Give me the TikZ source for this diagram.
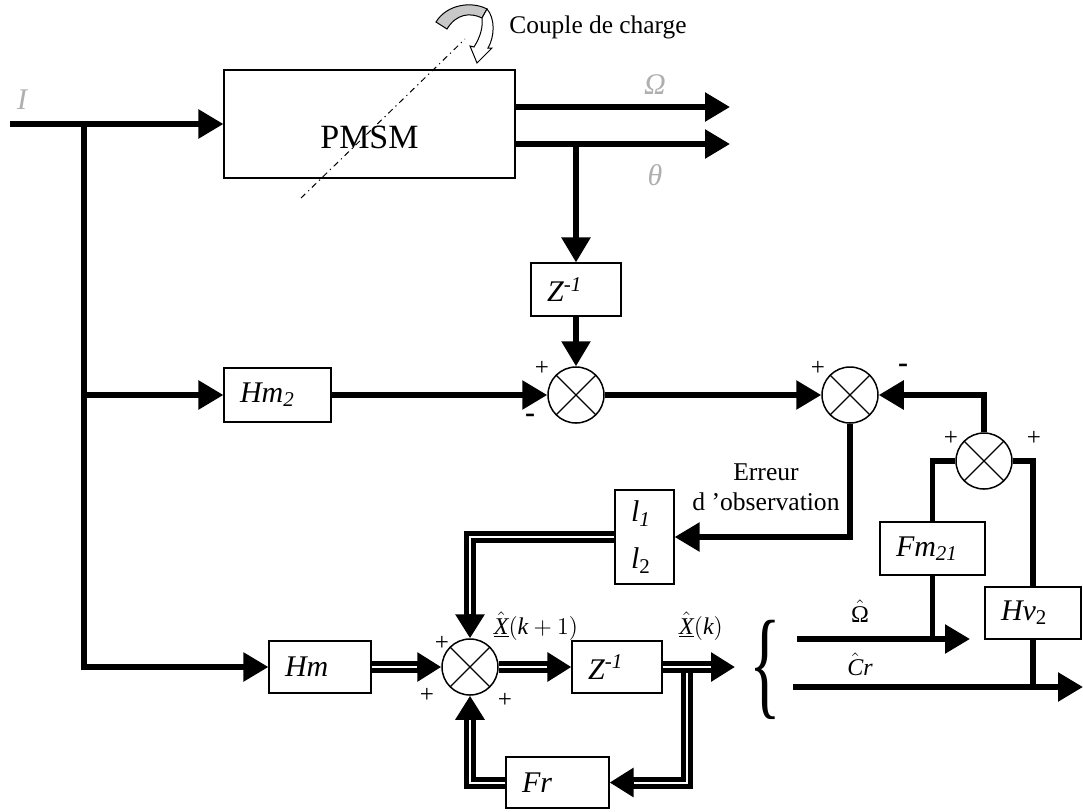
\documentclass[tikz,border=0pt]{standalone}
\usepackage{fontspec}
\setmainfont{Liberation Serif}
\usepackage{graphicx}
\usepackage{tikz}
\usetikzlibrary{arrows.meta}
\definecolor{labelgray}{RGB}{175,175,175}
\definecolor{torquegray}{RGB}{200,200,200}

\begin{document}
\begin{tikzpicture}[x=0.5pt,y=-0.5pt,
  box/.style={draw=black, line width=0.6pt, inner xsep=8pt, inner ysep=0pt, align=left, font=\fontsize{15}{18}\selectfont},
  summer/.style={circle, draw=black, line width=0.75pt, minimum size=28pt, inner sep=0pt,
    path picture={\draw[line width=0.6pt] (path picture bounding box.north west) -- (path picture bounding box.south east)
      (path picture bounding box.south west) -- (path picture bounding box.north east);}},
  sig/.style={line width=2.8pt, -{Triangle[length=12.5pt,width=14pt]}},
  wire/.style={line width=2.8pt},
  dbl/.style={line width=6pt, -{Triangle[length=12pt,width=14pt]}, postaction={draw=white, line width=1pt, -, shorten >=12pt}},
  sgn/.style={font=\fontsize{12.5}{14}\selectfont, inner sep=0pt},
  glabel/.style={text=labelgray, font=\fontsize{15}{18}\selectfont\itshape, inner sep=0pt},
  hatlabel/.style={font=\fontsize{12}{14}\selectfont, inner sep=0pt}]
\useasboundingbox (0,0) rectangle (1083,811);

\filldraw[fill=torquegray, line width=0.5pt] (436,22) .. controls (447,4) and (472,1) .. (487,9) -- (482,18) .. controls (470,12) and (456,14) .. (447,29) -- cycle;
\filldraw[fill=white, line width=0.5pt] (487,9) .. controls (495,18) and (495,36) .. (488,48) -- (492,48) -- (477,63) -- (470,46) -- (474,47) .. controls (481,36) and (483,26) .. (482,18) -- cycle;
\node[font=\fontsize{12.7}{15}\selectfont, anchor=west, inner sep=0pt] (couple) at (509,27) {Couple de charge};

\node[box, align=center, minimum width=145.5pt, minimum height=54pt, text height=24pt, text depth=0pt, font=\fontsize{17}{20}\selectfont] (pmsm) at (369.5,124) {PMSM};
\draw[line width=0.5pt, dash pattern=on 3pt off 2pt on 0.6pt off 2pt] (301,198) -- (465,39);

\node[box, text width=29pt, minimum height=26.5pt] (zinv1) at (576,289.5) {\textit{Z}\textsuperscript{\textit{-1}}};
\node[summer] (sum1) at (576,395) {};
\node[box, text width=37.5pt, minimum height=27pt] (hm2) at (277.5,395) {\textit{Hm}\textsubscript{\textit{2}}};
\node[summer] (sum2) at (850,395) {};
\node[summer] (sum3) at (984,461) {};
\node[box, text width=36.5pt, minimum height=26.5pt] (fm21) at (932.5,548.5) {\textit{Fm}\textsubscript{\textit{21}}};
\node[box, text width=32pt, minimum height=26pt] (hv2) at (1033,613) {\textit{Hv}\textsubscript{2}};
\node[box, text width=13.5pt, minimum height=47pt, font=\fontsize{15}{23.5}\selectfont] (lgain) at (644.5,537) {\textit{l}\textsubscript{\textit{1}}\\\textit{l}\textsubscript{2}};
\node[box, text width=35pt, minimum height=26pt] (hm) at (320,667) {\textit{Hm}};
\node[summer] (sum4) at (470,667) {};
\node[box, text width=29pt, minimum height=26pt] (zinv2) at (617,667) {\textit{Z}\textsuperscript{\textit{-1}}};
\node[box, text width=35.5pt, minimum height=25.5pt] (fr) at (557.5,782.5) {\textit{Fr}};

\coordinate (in) at (10,124);
\coordinate (split) at (84,124);
\coordinate (omegaout) at (730,107);
\coordinate (thetaout) at (730,144);
\coordinate (omegahat) at (797,639);
\coordinate (omegahatend) at (970,639);
\coordinate (crhat) at (793,687);
\coordinate (crhatend) at (1083,687);
\coordinate (xktap) at (687,667);
\coordinate (xk) at (735,667);

\draw[sig] (in) -- (pmsm.west);
\draw[sig] (split) -- (split |- hm.west) -- (hm.west);
\draw[sig] (split |- hm2.west) -- (hm2.west);
\draw[sig] (pmsm.east |- omegaout) -- (omegaout);
\draw[sig] (pmsm.east |- thetaout) -- (thetaout);
\draw[sig] (zinv1.north |- thetaout) -- (zinv1.north);
\draw[sig] (zinv1.south) -- (sum1.north);
\draw[sig] (hm2.east) -- (sum1.west);
\draw[sig] (sum1.east) -- (sum2.west);
\draw[sig] (sum3.north) |- (sum2.east);
\draw[sig] (sum2.south) |- (lgain.east);
\draw[wire] (fm21.north) |- (sum3.west);
\draw[wire] (hv2.north) |- (sum3.east);
\draw[sig] (omegahat) -- (omegahatend);
\draw[wire] (fm21.south) -- (fm21.south |- omegahat);
\draw[sig] (crhat) -- (crhatend);
\draw[wire] (hv2.south) -- (hv2.south |- crhat);

\draw[dbl] (lgain.west) -| (sum4.north);
\draw[dbl] (fr.west) -| (sum4.south);
\draw[dbl] (xktap) |- (fr.east);
\draw[dbl] (hm.east) -- (sum4.west);
\draw[dbl] (sum4.east) -- (zinv2.west);
\draw[dbl] (zinv2.east) -- (xk);

\node[sgn] at (542,368) {+};
\node[sgn, font=\fontsize{15}{18}\selectfont\bfseries] at (530,418) {-};
\node[sgn] at (818,368) {+};
\node[sgn, font=\fontsize{15}{18}\selectfont\bfseries] at (903,368) {-};
\node[sgn] at (951,438) {+};
\node[sgn] at (1034,438) {+};
\node[sgn] at (442,643) {+};
\node[sgn] at (427,695) {+};
\node[sgn] at (505,700) {+};

\node[glabel] (ilabel) at (22,100) {I};
\node[glabel] (omegalabel) at (655,85) {Ω};
\node[glabel] (thetalabel) at (655,175) {θ};
\node[font=\fontsize{12.8}{15}\selectfont, align=center, inner sep=0pt] (erreur) at (766,487) {Erreur\\d 'observation};
\node[hatlabel] (xnext) at (536,626) {$\underline{\hat{\mathit{X}}}(\mathit{k}+1)$};
\node[hatlabel] (xnow) at (701,626) {$\underline{\hat{\mathit{X}}}(\mathit{k})$};
\node[hatlabel] (omegahatlabel) at (860,611) {$\hat{\mbox{Ω}}$};
\node[hatlabel] (crhatlabel) at (860,664) {$\hat{\mathit{C}}\mathit{r}$};
\node[inner sep=0pt] (brace) at (765,670) {\fontsize{60}{60}\selectfont\scalebox{0.55}[1]{\{}};
\end{tikzpicture}
\end{document}
